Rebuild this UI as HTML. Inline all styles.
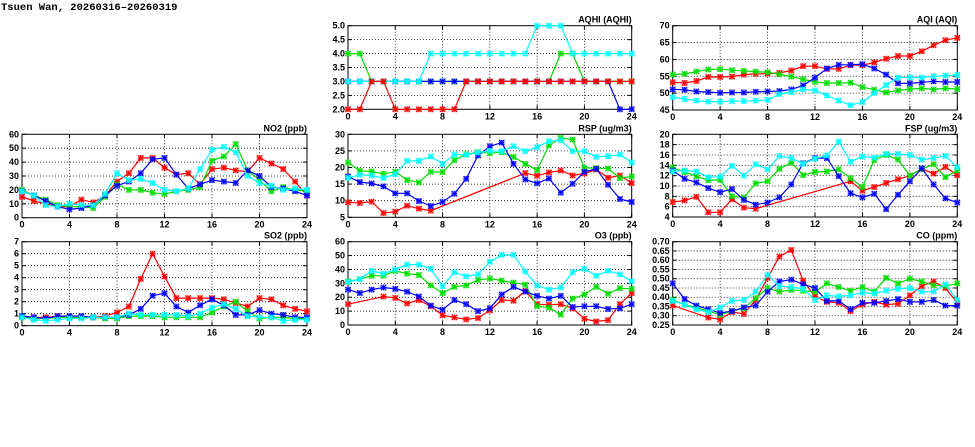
<!DOCTYPE html>
<html><head><meta charset="utf-8"><style>
html,body{margin:0;padding:0;background:#fff;width:975px;height:447px;overflow:hidden}
svg text{font-family:"Liberation Sans",sans-serif;font-weight:bold;font-size:9px;fill:#000}
svg text.ttl{font-family:"Liberation Mono",monospace;font-size:10.5px}
</style></head><body>
<svg id="chart" width="975" height="447" viewBox="0 0 975 447" xmlns="http://www.w3.org/2000/svg">
<text class="ttl" x="1" y="10">Tsuen Wan, 20260316–20260319</text>
</svg>
<script>
const hours=[0,1,2,3,4,5,6,7,8,9,10,11,12,13,14,15,16,17,18,19,20,21,22,23,24];
const seriesColors=['#ff0000','#00dd00','#0000ff','#00ffff'];
const no2Red=[15,12,10,8,8,13,11,16,26,32,43,43,36,31,32,24,35,36,34,33,43,39,35,26,16];
const no2Green=[20,16,13,9,8,8,7,15,24,20,20,18,17,19,20,22,41,44,53,34,27,19,22,20,19];
const no2Blue=[19,16,12,8,6,7,9,16,23,26,32,42,43,31,21,24,27,26,25,34,30,22,21,19,16];
const no2Cyan=[19,16,9,8,10,9,9,17,32,27,28,25,20,19,21,35,49,51,47,30,25,23,20,21,20];
const so2Red=[0.75,0.7,0.7,0.8,0.7,0.7,0.7,0.8,1.1,1.6,3.9,6.0,4.1,2.3,2.3,2.3,2.3,2.2,1.9,1.6,2.3,2.2,1.7,1.4,1.2];
const so2Green=[0.7,0.6,0.6,0.7,0.7,0.7,0.7,0.6,0.6,0.8,0.8,0.8,0.7,0.7,0.7,0.7,1.1,1.6,2.0,1.2,0.6,0.7,0.7,0.6,0.6];
const so2Blue=[0.8,0.7,0.6,0.8,0.8,0.8,0.7,0.7,0.7,0.9,1.4,2.5,2.7,1.6,1.1,1.7,2.2,1.7,0.9,0.9,1.3,1.0,0.9,0.7,0.7];
const so2Cyan=[0.7,0.5,0.4,0.5,0.6,0.6,0.7,0.7,0.7,1.0,0.9,0.9,0.9,0.9,0.8,1.0,1.5,1.8,1.4,0.8,0.7,0.7,0.4,0.5,0.5];
const aqhiRed=[2,2,3,3,2,2,2,2,2,2,3,3,3,3,3,3,3,3,3,3,3,3,3,3,3];
const aqhiGreen=[4,4,3,3,3,3,3,3,3,3,3,3,3,3,3,3,3,3,4,4,3,3,3,3,3];
const aqhiBlue=[3,3,3,3,3,3,3,3,3,3,3,3,3,3,3,3,3,3,3,3,3,3,3,2,2];
const aqhiCyan=[3,3,3,3,3,3,3,4,4,4,4,4,4,4,4,4,5,5,5,4,4,4,4,4,4];
const rspRed=[9.5,9.3,9.7,6.3,6.7,8.5,7.6,7,null,null,null,null,null,null,null,18.3,17.5,18.5,19.1,17.6,18.2,19.4,16.9,17.6,15.3];
const rspGreen=[21.5,19,18.8,18.1,18.7,16.2,15.5,18.7,18.6,22.2,24,24.6,24.3,24.6,23.2,21.1,19.2,26.7,28.9,28.4,19.9,19.8,19.7,16.8,17.3];
const rspBlue=[17.3,15.6,15.2,14.3,12.2,12.2,9.9,8.4,9.6,12.1,16.6,23.6,26.4,27.5,21.1,16.4,15.2,16.7,12.4,15.1,18.7,19.6,14.8,10.5,9.6];
const rspCyan=[16.9,17.8,17.6,16.8,18,22,22,23.3,21.1,23.9,23.8,24.5,25,24.9,26.4,24.9,26.1,27.9,28.2,24.9,24.9,23.2,23.4,23.9,21.5];
const o3Red=[15,null,null,20.5,19.5,15.5,18,13.5,7,5.5,4,5,10.5,18,17.5,24.5,15,14.5,15,12,4.5,2.5,3.5,15,23];
const o3Green=[31.5,33,35.5,35.5,39,37,36,28.5,23,27.5,28.5,32.5,33.5,32,30.5,29,13.5,12.5,7.5,19,22,27.5,22.5,26.5,26];
const o3Blue=[25.5,23,25.5,27,26,24,20.5,14,11,18,15,10,12,22,27.5,24,21,19,21,13,13.5,13.5,11.5,12,15];
const o3Cyan=[31,33,39,37,40,43.5,43.5,40.5,28,38,35,36.5,45.5,50.5,50.5,38.5,28.5,25.5,27,38,40.5,35.5,39,36.5,31.5];
const aqiRed=[53.2,53,53.6,54.8,54.8,54.9,55.5,55.7,55.8,56,56.7,58,58,57.2,57.2,58.3,58.3,59.1,60.2,61,61,62.4,64.2,65.7,66.4];
const aqiGreen=[55.5,55.7,56.4,57,57.1,56.8,56.6,56.4,56.2,55.6,54.9,54.1,53.3,53,53,53.1,51.8,51,50.2,50.8,51.2,51.4,51.1,51.4,51.2];
const aqiBlue=[51.1,51,50.5,50.3,50.1,50.2,50.2,50.4,50.5,50.6,51.1,52.3,54.6,57.3,58.4,58.4,58.6,57.3,55.5,52.9,52.9,53.2,53.5,53.3,53.3];
const aqiCyan=[48.8,48.3,47.8,47.5,47.5,47.6,47.6,47.8,48,49.7,50.3,51.1,50.8,49.3,47.8,46.4,47.4,50,52.4,54.6,54.7,54.6,55,55.2,55.4];
const fspRed=[6.9,7.2,7.9,4.9,4.9,7.4,5.8,5.6,null,null,null,null,null,null,null,10.9,9.1,9.8,10.6,11.3,12,13.3,12.4,13.7,12.1];
const fspGreen=[13.6,12.7,11.9,11.1,11.2,8,7.8,10.5,10.9,13.3,14.5,12.1,12.7,12.8,13.2,11.5,9.8,15,16,15.1,12,13.3,14.2,11.7,13];
const fspBlue=[13,11.4,10.7,9.6,8.8,9.4,7.3,6.4,6.8,7.8,10.3,14.4,15.4,15.4,11.9,8.6,7.8,8.5,5.5,8.3,10.9,13.4,10.3,7.6,6.8];
const fspCyan=[12.8,13,12.8,11.7,11.8,13.9,12,14.2,13.2,15.8,15.4,14.3,15.3,15.9,18.6,14.7,15.7,15.5,16.2,16.2,16,15.1,15.4,15.8,13.6];
const coRed=[0.355,null,null,0.29,0.28,0.32,0.31,0.385,0.505,0.62,0.655,0.49,0.405,0.375,0.37,0.325,0.36,0.375,0.36,0.365,0.41,0.46,0.485,0.45,0.37];
const coGreen=[0.385,0.36,0.345,0.325,0.305,0.325,0.34,0.395,0.45,0.43,0.44,0.435,0.43,0.475,0.455,0.435,0.455,0.43,0.505,0.475,0.5,0.485,0.465,0.46,0.475];
const coBlue=[0.475,0.39,0.355,0.335,0.315,0.325,0.345,0.355,0.43,0.485,0.495,0.47,0.45,0.38,0.38,0.335,0.37,0.37,0.38,0.39,0.375,0.375,0.385,0.355,0.355];
const coCyan=[0.38,0.36,0.335,0.32,0.345,0.38,0.385,0.43,0.52,0.46,0.455,0.445,0.385,0.41,0.405,0.41,0.425,0.42,0.435,0.445,0.45,0.43,0.43,0.47,0.385];
const xTicks=[0,4,8,12,16,20,24];
const panelTitles=['NO2 (ppb)','SO2 (ppb)','AQHI (AQHI)','RSP (ug/m3)','O3 (ppb)','AQI (AQI)','FSP (ug/m3)','CO (ppm)'];

const NS='http://www.w3.org/2000/svg';
const svg=document.getElementById('chart');
function mk(tag,attrs,parent){const e=document.createElementNS(NS,tag);for(const k in attrs)e.setAttribute(k,attrs[k]);(parent||svg).appendChild(e);return e;}

const panels=[
 {key:'no2',x0:22,x1:307,yt:134.3,yb:217.7,min:0,max:60,step:10,dec:0,series:[no2Red,no2Green,no2Blue,no2Cyan]},
 {key:'so2',x0:22,x1:307,yt:241.7,yb:325.7,min:0,max:7,step:1,dec:0,series:[so2Red,so2Green,so2Blue,so2Cyan]},
 {key:'aqhi',x0:348,x1:631.7,yt:25.7,yb:109.3,min:2,max:5,step:0.5,dec:1,series:[aqhiGreen,aqhiBlue,aqhiCyan,aqhiRed],cols:[1,2,3,0]},
 {key:'rsp',x0:348,x1:631.7,yt:134.3,yb:217.3,min:5,max:30,step:5,dec:0,series:[rspRed,rspGreen,rspBlue,rspCyan]},
 {key:'o3',x0:348,x1:631.7,yt:241.7,yb:325,min:0,max:60,step:10,dec:0,series:[o3Red,o3Green,o3Blue,o3Cyan]},
 {key:'aqi',x0:672.7,x1:957.3,yt:25.7,yb:110,min:45,max:70,step:5,dec:0,series:[aqiRed,aqiGreen,aqiBlue,aqiCyan]},
 {key:'fsp',x0:672.7,x1:957.3,yt:134.3,yb:217,min:4,max:20,step:2,dec:0,series:[fspRed,fspGreen,fspBlue,fspCyan]},
 {key:'co',x0:672.7,x1:957.3,yt:241.7,yb:325,min:0.25,max:0.70,step:0.05,dec:2,series:[coRed,coGreen,coBlue,coCyan]}
];

panels.forEach((p,pi)=>{
  const g=mk('g',{});
  
  
  const xs=h=>p.x0+(h/24)*(p.x1-p.x0);
  const ys=v=>p.yb-(v-p.min)/(p.max-p.min)*(p.yb-p.yt);
  const nT=Math.round((p.max-p.min)/p.step);
  for(let i=0;i<=nT;i++){
    const v=p.min+i*p.step,y=ys(v);
    if(i>0&&i<nT){const l=mk('line',{x1:p.x0,x2:p.x1,y1:y,y2:y,stroke:'#000','stroke-width':0.8,'stroke-dasharray':'1,2'},g);}
    mk('line',{x1:p.x0,x2:p.x0+4,y1:y,y2:y,stroke:'#000','stroke-width':1},g);
    mk('line',{x1:p.x1,x2:p.x1-4,y1:y,y2:y,stroke:'#000','stroke-width':1},g);
    const t=mk('text',{x:p.x0-3,y:y+3,'text-anchor':'end'},g);t.textContent=v.toFixed(p.dec);
    
  }
  xTicks.forEach(h=>{
    const x=xs(h);
    if(h>0&&h<24){const l=mk('line',{x1:x,x2:x,y1:p.yt,y2:p.yb,stroke:'#000','stroke-width':0.8,'stroke-dasharray':'1,2'},g);}
    mk('line',{x1:x,x2:x,y1:p.yb,y2:p.yb-4,stroke:'#000','stroke-width':1},g);
    mk('line',{x1:x,x2:x,y1:p.yt,y2:p.yt+4,stroke:'#000','stroke-width':1},g);
    const t=mk('text',{x:x,y:p.yb+10,'text-anchor':'middle'},g);t.textContent=h;
    
  });
  const fr=mk('rect',{x:p.x0,y:p.yt,width:p.x1-p.x0,height:p.yb-p.yt,fill:'none',stroke:'#000','stroke-width':1},g);
  
  const tt=mk('text',{x:p.x1,y:p.yt-3,'text-anchor':'end'},g);tt.textContent=panelTitles[pi];
  
  p.series.forEach((arr,si)=>{
    const col=seriesColors[p.cols?p.cols[si]:si];
    const pts=[];arr.forEach((v,i)=>{if(v!==null&&v!==undefined)pts.push([xs(hours[i]),ys(v)]);});
    const pl=mk('polyline',{points:pts.map(q=>q[0].toFixed(1)+','+q[1].toFixed(1)).join(' '),fill:'none',stroke:col,'stroke-width':1.2},g);
    
    pts.forEach(q=>{
      const [x,y]=q,s=2.6;
      const m=mk('path',{d:`M${x-s},${y}H${x+s}M${x},${y-s}V${y+s}M${x-s},${y-s}L${x+s},${y+s}M${x-s},${y+s}L${x+s},${y-s}`,stroke:col,'stroke-width':1.1,fill:'none'},g);
      
      mk('rect',{x:x-2.5,y:y-2.5,width:5,height:5,fill:'none',stroke:col,'stroke-opacity':0.5,'stroke-width':0.8},g);
    });
  });
});
</script>
</body></html>
